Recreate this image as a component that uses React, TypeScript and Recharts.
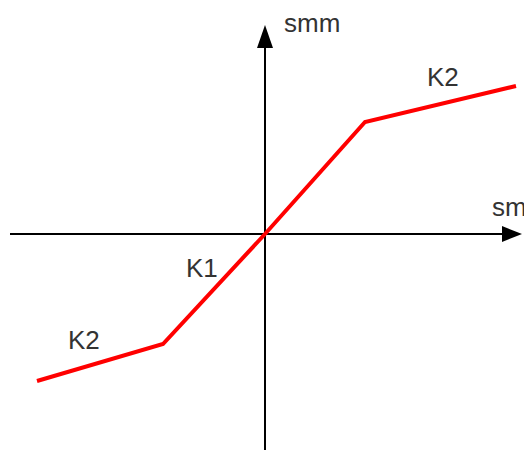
import {
  LineChart,
  Line,
  XAxis,
  YAxis,
  ReferenceLine,
  ReferenceDot,
} from 'recharts'

// Kennlinie: Knickpunkte der zweistufigen Feder (K1 innen, K2 außen)
const kurveX = [-2.28, -1.02, 0, 1.0, 2.51]
const kurveY = [-1.47, -1.1, 0, 1.12, 1.48]

// Achsbeschriftungen und Steigungen (Ankerpunkt in Datenkoordinaten)
const labelText = ['smm', 'sm', 'K1', 'K2', 'K2']
const labelX = [0.19, 2.27, -0.79, 1.62, -1.97]
const labelY = [2.02, 0.18, -0.43, 1.48, -1.15]

const X_DOMAIN: [number, number] = [-2.65, 2.59]
const Y_DOMAIN: [number, number] = [-2.16, 2.34]

const data = kurveX.map((x, i) => ({ x, y: kurveY[i] }))
const labels = labelText.map((text, i) => ({ text, x: labelX[i], y: labelY[i] }))

const ArrowRight = (props: any) => {
  const { cx, cy } = props
  return <polygon points={`${cx},${cy} ${cx - 20},${cy - 8} ${cx - 20},${cy + 8}`} fill="#000" />
}

const ArrowUp = (props: any) => {
  const { cx, cy } = props
  return <polygon points={`${cx},${cy} ${cx - 8},${cy + 23} ${cx + 8},${cy + 23}`} fill="#000" />
}

export default function App() {
  return (
    <div style={{ position: 'absolute', left: 0, top: 0, background: '#fff' }}>
      <LineChart width={524} height={450} data={data} margin={{ top: 0, right: 0, bottom: 0, left: 0 }}>
        <XAxis type="number" dataKey="x" domain={X_DOMAIN} hide allowDataOverflow />
        <YAxis type="number" dataKey="y" domain={Y_DOMAIN} hide allowDataOverflow />
        {/* Achsen */}
        <ReferenceLine
          segment={[{ x: -2.55, y: 0 }, { x: 2.4, y: 0 }]}
          stroke="#000"
          strokeWidth={2}
          ifOverflow="visible"
        />
        <ReferenceLine
          segment={[{ x: 0, y: -2.16 }, { x: 0, y: 1.9 }]}
          stroke="#000"
          strokeWidth={2}
          ifOverflow="visible"
        />
        <ReferenceDot x={2.57} y={0} r={0} shape={ArrowRight} ifOverflow="visible" />
        <ReferenceDot x={0} y={2.09} r={0} shape={ArrowUp} ifOverflow="visible" />
        <Line
          type="linear"
          dataKey="y"
          stroke="#ff0000"
          strokeWidth={4}
          dot={false}
          activeDot={false}
          isAnimationActive={false}
        />
        {labels.map((l, i) => (
          <ReferenceDot
            key={i}
            x={l.x}
            y={l.y}
            r={0}
            ifOverflow="visible"
            shape={(p: any) => (
              <text
                x={p.cx}
                y={p.cy}
                fill="#333"
                fontSize={26}
                fontFamily="Liberation Sans, Arial, sans-serif"
              >
                {l.text}
              </text>
            )}
          />
        ))}
      </LineChart>
    </div>
  )
}
